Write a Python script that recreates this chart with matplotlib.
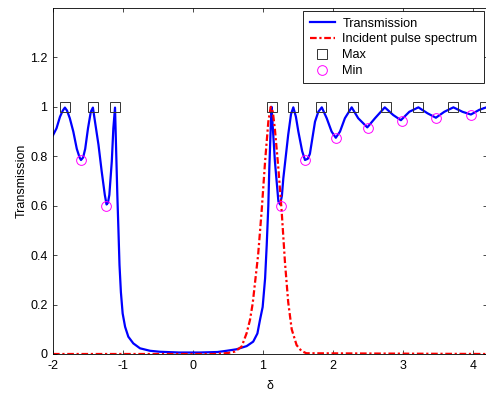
import matplotlib
matplotlib.use("Agg")
import matplotlib.pyplot as plt

plt.rcParams["font.family"] = ["Liberation Sans", "DejaVu Sans"]
plt.rcParams["axes.unicode_minus"] = False

# Transmission curve, sampled by hand along the detuning axis
delta_T = [-2.00, -1.95, -1.90, -1.86, -1.83, -1.80, -1.76, -1.71, -1.66, -1.62,
           -1.60, -1.57, -1.54, -1.50, -1.46, -1.43, -1.40, -1.35, -1.305, -1.26,
           -1.235, -1.215, -1.195, -1.16, -1.138, -1.114, -1.10, -1.081, -1.065, -1.05,
           -1.03, -1.005, -0.97, -0.924, -0.853, -0.757, -0.614, -0.47, -0.2, 0.1,
           0.35, 0.48, 0.62, 0.767, 0.86, 0.92, 0.957, 0.995, 1.03, 1.053,
           1.076, 1.09, 1.11, 1.122, 1.17, 1.22, 1.245, 1.27, 1.29, 1.36,
           1.40, 1.433, 1.47, 1.505, 1.56, 1.60, 1.64, 1.67, 1.743, 1.79,
           1.84, 1.91, 1.98, 2.04, 2.10, 2.17, 2.267, 2.36, 2.49, 2.60,
           2.74, 2.86, 2.97, 3.09, 3.22, 3.35, 3.47, 3.59, 3.72, 3.85,
           3.97, 4.09, 4.19, 4.20]
trans = [0.885, 0.913, 0.96, 0.985, 0.997, 0.985, 0.954, 0.90, 0.83, 0.795,
         0.785, 0.795, 0.83, 0.913, 0.98, 0.997, 0.94, 0.846, 0.74, 0.644,
         0.605, 0.612, 0.644, 0.78, 0.913, 0.997, 0.846, 0.644, 0.50, 0.36,
         0.25, 0.164, 0.11, 0.07, 0.043, 0.023, 0.013, 0.009, 0.006, 0.006,
         0.008, 0.013, 0.019, 0.032, 0.05, 0.083, 0.138, 0.19, 0.306, 0.44,
         0.60, 0.75, 0.913, 1.0, 0.78, 0.617, 0.605, 0.64, 0.71, 0.887,
         0.97, 0.998, 0.96, 0.90, 0.82, 0.785, 0.79, 0.81, 0.94, 0.98,
         0.998, 0.954, 0.90, 0.875, 0.90, 0.954, 0.998, 0.954, 0.917, 0.954,
         0.998, 0.967, 0.946, 0.98, 0.998, 0.974, 0.956, 0.98, 0.998, 0.98,
         0.969, 0.988, 0.998, 0.997]

# Incident pulse spectrum
delta_P = [-2.0, 0.3, 0.5, 0.60, 0.695, 0.767, 0.814, 0.853, 0.93, 0.98,
           1.03, 1.076, 1.11, 1.14, 1.17, 1.22, 1.267, 1.314, 1.36, 1.41,
           1.48, 1.55, 1.62, 4.2]
pulse = [0.0, 0.0, 0.004, 0.01, 0.03, 0.085, 0.138, 0.205, 0.40, 0.576,
         0.78, 0.94, 1.0, 0.98, 0.91, 0.75, 0.576, 0.37, 0.21, 0.10,
         0.036, 0.012, 0.003, 0.0]

# Detected extrema
max_delta = [-1.83, -1.43, -1.11, 1.13, 1.43, 1.83, 2.28, 2.75, 3.22, 3.71, 4.17]
max_T = [1.0] * len(max_delta)
min_delta = [-1.60, -1.24, 1.26, 1.60, 2.04, 2.50, 2.98, 3.47, 3.97]
min_T = [0.785, 0.60, 0.60, 0.785, 0.873, 0.916, 0.944, 0.955, 0.968]

fig = plt.figure(figsize=(4.86, 3.93), dpi=100)
ax = fig.add_axes([53 / 486, 39 / 393, 434 / 486, 346 / 393])

ax.plot(delta_T, trans, color="#0000ff", lw=1.6, label="Transmission")
ax.plot(delta_P, pulse, color="#ff0000", lw=1.6,
        linestyle=(0, (3, 1.2, 1, 1.2)), label="Incident pulse spectrum")
ax.plot(max_delta, max_T, linestyle="none", marker="s", markersize=7,
        markerfacecolor="none", markeredgecolor="#333333", markeredgewidth=0.7,
        label="Max")
ax.plot(min_delta, min_T, linestyle="none", marker="o", markersize=7,
        markerfacecolor="none", markeredgecolor="#ff00ff", markeredgewidth=0.7,
        label="Min")

ax.set_xlim(-2, 4.2)
ax.set_ylim(0, 1.4)
ax.set_xticks([-2, -1, 0, 1, 2, 3, 4])
ax.set_yticks([0, 0.2, 0.4, 0.6, 0.8, 1.0, 1.2])
ax.set_yticklabels(["0", "0.2", "0.4", "0.6", "0.8", "1", "1.2"])
ax.tick_params(direction="in", top=True, right=True, length=3, width=0.5,
               labelsize=9, pad=4)
for s in ax.spines.values():
    s.set_linewidth(0.6)

ax.set_xlabel("δ", fontsize=9, labelpad=6)
ax.set_ylabel("Transmission", fontsize=9, labelpad=2)

leg = ax.legend(loc="upper right", fontsize=9.2, fancybox=False, framealpha=1,
                edgecolor="black", handlelength=2.0, handletextpad=0.55,
                labelspacing=0.3, borderaxespad=0.25, borderpad=0.5)
leg.get_frame().set_linewidth(0.6)

fig.savefig("out.png", dpi=100)
